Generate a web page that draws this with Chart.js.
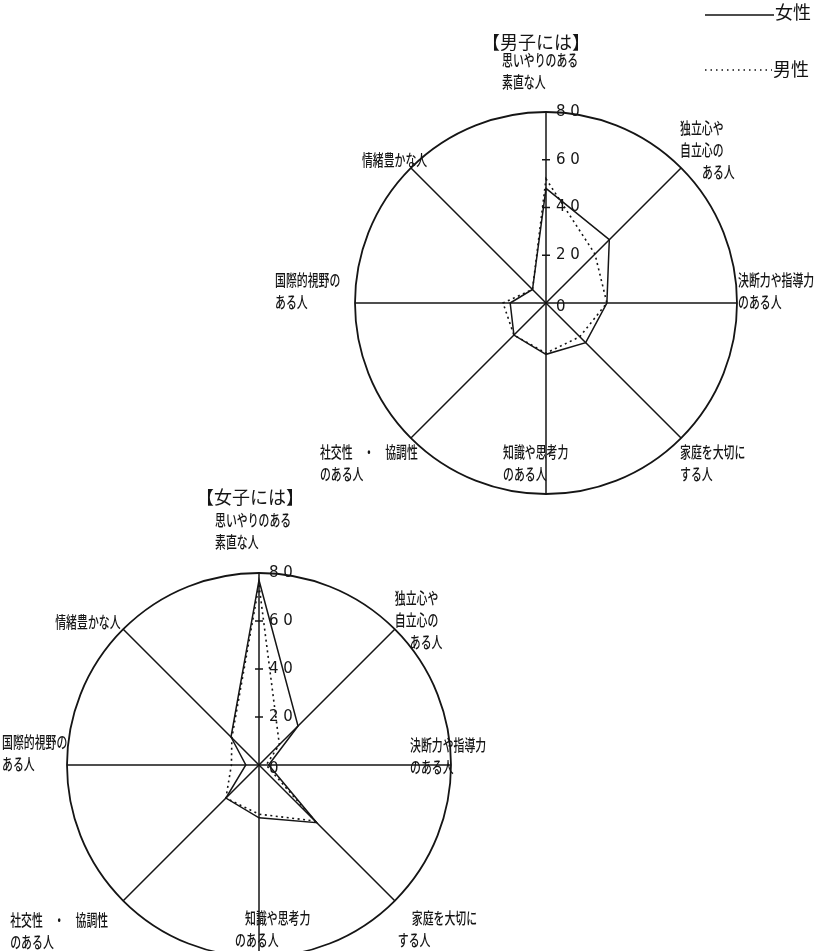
<!DOCTYPE html>
<html>
<head>
<meta charset="utf-8">
<script src="https://cdn.jsdelivr.net/npm/chart.js@4.4.1/dist/chart.umd.min.js"></script>
<style>
html, body { margin: 0; padding: 0; background: #fff; width: 818px; height: 951px; overflow: hidden; }
canvas { position: absolute; left: 0; top: 0; }
.lg { position: absolute; font-family: "Noto Sans CJK JP"; font-size: 18px; line-height: 18px; color: #111; }
</style>
</head>
<body>
<canvas id="BoysChart" width="818" height="951"></canvas>
<canvas id="GirlsChart" width="818" height="1000"></canvas>
<svg width="818" height="90" style="position:absolute;left:0;top:0">
  <line x1="705" y1="15" x2="774" y2="15" stroke="#111" stroke-width="1.6"/>
  <line x1="705" y1="70" x2="772" y2="70" stroke="#111" stroke-width="1.6" stroke-dasharray="1.5 4"/>
</svg>
<div class="lg" style="left:775px;top:2px">女性</div>
<div class="lg" style="left:773px;top:59px">男性</div>
<script>
// 項目（上から時計回り）
var axisLabels = [
  ['思いやりのある', '素直な人'],
  ['独立心や', '自立心の', 'ある人'],
  ['決断力や指導力', 'のある人'],
  ['家庭を大切に', 'する人'],
  ['知識や思考力', 'のある人'],
  ['社交性　・　協調性', 'のある人'],
  ['国際的視野の', 'ある人'],
  ['情緒豊かな人']
];
var tickValues = [0, 20, 40, 60, 80];
var seriesNames = ['女性', '男性'];

// 【男子には】
var boysFemale = [48, 37.5, 25.5, 23.5, 21.5, 19, 15, 8];
var boysMale = [52, 29, 25.5, 20, 21, 19, 18, 8];

// 【女子には】
var girlsFemale = [77, 23, 4, 34, 22, 19.5, 5.5, 16.5];
var girlsMale = [75, 12, 3, 33, 20.5, 19.5, 11.5, 16];

var ink = '#151515';

// ラベル・目盛りを描くプラグイン
var labelPlugin = {
  id: 'radarText',
  afterDraw: function(chart) {
    var opt = chart.options.plugins.radarText;
    var ctx = chart.ctx;
    var scale = chart.scales.r;
    var cx = scale.xCenter, cy = scale.yCenter;
    var i, j, p, pl, y;
    ctx.save();
    ctx.fillStyle = ink;
    ctx.strokeStyle = ink;
    ctx.textBaseline = 'middle';
    ctx.textAlign = 'left';

    // 目盛り
    ctx.lineWidth = 1.5;
    ctx.font = '15px "DejaVu Sans"';
    for (i = 0; i < tickValues.length; i++) {
      y = cy - scale.getDistanceFromCenterForValue(tickValues[i]);
      if (tickValues[i] > 0 && tickValues[i] < 80) {
        ctx.beginPath();
        ctx.moveTo(cx - 4, y);
        ctx.lineTo(cx + 4, y);
        ctx.stroke();
      }
      ctx.fillText(String(tickValues[i]).split('').join(' '), cx + 10, y + (tickValues[i] === 0 ? 4 : 0));
    }

    // タイトル
    p = scale.getPointPosition(0, scale.drawingArea);
    ctx.font = '18px "Noto Sans CJK JP"';
    ctx.fillText(opt.title, p.x + opt.titleOffset[0], p.y + opt.titleOffset[1]);

    // 項目名
    ctx.font = '500 16px "Noto Sans CJK JP"';
    for (i = 0; i < axisLabels.length; i++) {
      p = scale.getPointPosition(i, scale.drawingArea);
      pl = opt.place[i];
      for (j = 0; j < axisLabels[i].length; j++) {
        ctx.save();
        ctx.translate(p.x + pl[0] + (pl[2] ? pl[2][j] || 0 : 0), p.y + pl[1] + j * 22);
        ctx.scale(0.68, 1);
        ctx.fillText(axisLabels[i][j], 0, 0);
        ctx.restore();
      }
    }
    ctx.restore();
  }
};

function makeRadar(id, female, male, pad, title, titleOffset, place) {
  var ctx = document.getElementById(id).getContext('2d');
  return new Chart(ctx, {
    type: 'radar',
    data: {
      labels: axisLabels.map(function(l) { return l.join(''); }),
      datasets: [
        {
          label: seriesNames[0],
          data: female,
          fill: false,
          borderColor: ink,
          borderWidth: 1.5,
          pointRadius: 0
        },
        {
          label: seriesNames[1],
          data: male,
          fill: false,
          borderColor: ink,
          borderWidth: 1.6,
          borderDash: [2, 3.5],
          pointRadius: 0
        }
      ]
    },
    options: {
      responsive: false,
      animation: false,
      layout: { padding: pad },
      plugins: {
        legend: { display: false },
        tooltip: { enabled: false },
        radarText: { title: title, titleOffset: titleOffset, place: place }
      },
      scales: {
        r: {
          min: 0,
          max: 80,
          ticks: { display: false, stepSize: 20 },
          pointLabels: { display: false },
          angleLines: { color: ink, lineWidth: 1.5 },
          grid: {
            circular: true,
            lineWidth: 1.8,
            color: function(c) { return c.tick && c.tick.value === 80 ? ink : 'rgba(0,0,0,0)'; }
          }
        }
      }
    },
    plugins: [labelPlugin]
  });
}

makeRadar('BoysChart', boysFemale, boysMale,
  { left: 355, right: 81, top: 112, bottom: 457 },
  '【男子には】', [-64, -70],
  [[-44, -52], [-1, -40, [0, 0, 22]], [1, -23], [-1, 14], [-43, -42], [-91, 14], [-80, -23], [-49, -8]]);

makeRadar('GirlsChart', girlsFemale, girlsMale,
  { left: 67, right: 367, top: 573, bottom: 43 },
  '【女子には】', [-63, -76],
  [[-44, -53], [0, -31, [0, 0, 15]], [-41, -20], [17, 17, [0, -14]], [-14, -39, [0, -10]], [-113, 19], [-65, -23], [-68, -7]]);
</script>
</body>
</html>
